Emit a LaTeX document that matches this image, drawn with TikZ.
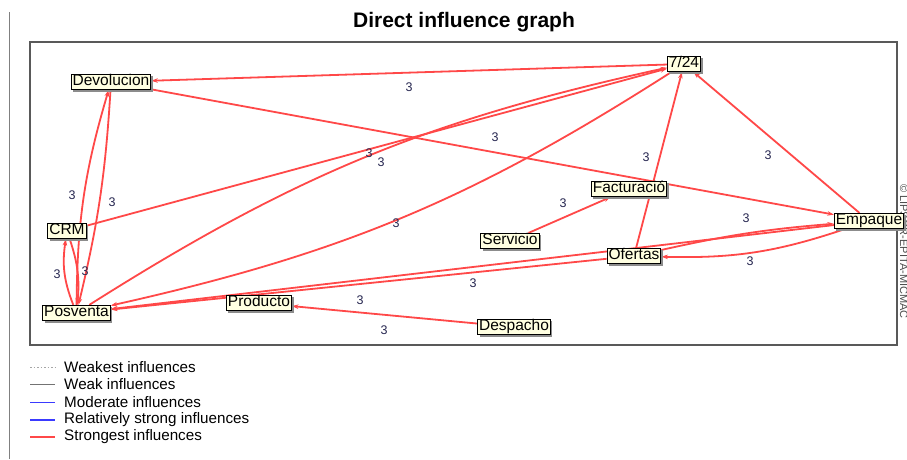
\documentclass[tikz,border=0pt]{standalone}
\usepackage{fontspec}
\setmainfont{Liberation Sans}
\usetikzlibrary{shadows,arrows.meta}
\definecolor{infred}{HTML}{FF4848}
\definecolor{nodefill}{HTML}{FFFFE1}
\definecolor{lblc}{HTML}{262650}
\definecolor{modblue}{HTML}{3A3AFF}
\pgfdeclarelayer{back}
\pgfdeclarelayer{bg}
\pgfsetlayers{back,bg,main}
\tikzset{
 var/.style={draw=black, fill=nodefill, line width=0.9pt, inner xsep=1.5pt, inner ysep=0pt,
   text height=11.5pt, text depth=3.8pt, font=\fontsize{15.5}{17}\selectfont,
   drop shadow={shadow xshift=2pt, shadow yshift=-2pt, fill=black!45, opacity=1}},
 infl/.style={draw=infred, line width=1.8pt, -{Stealth[length=6.5pt,width=4.5pt]}},
 wt/.style={font=\fontsize{12.5}{14}\selectfont, text=lblc, inner sep=0pt},
 legline/.style={line width=#1},
 legtext/.style={anchor=west, inner sep=0pt, font=\fontsize{15.2}{17}\selectfont},
}
\begin{document}
\begin{tikzpicture}[x=1pt,y=-1pt]
\useasboundingbox (0,0) rectangle (907,459);
\begin{pgfonlayer}{back}
\fill[white] (0,0) rectangle (907,459);
\draw[black!50, line width=1pt] (9,12) -- (9,459);
\draw[black!65, line width=1.5pt] (30,42) rectangle (897,345);
\end{pgfonlayer}
\node[font=\bfseries\fontsize{21}{23}\selectfont] (title) at (464,22) {Direct influence graph};
\node[rotate=-90, anchor=base west, font=\fontsize{11}{12}\selectfont, text=black!70, inner sep=0pt] (copy) at (900,184) {© LIPSOR-EPITA-MICMAC};

% variables
\node[var] (dev) at (111,82) {Devolucion};
\node[var] (t724) at (684,64) {7/24};
\node[var] (crm) at (67,231) {CRM};
\node[var] (pos) at (76.5,313) {Posventa};
\node[var] (prod) at (259,303) {Producto};
\node[var] (desp) at (514,327) {Despacho};
\node[var] (serv) at (510,241) {Servicio};
\node[var] (fact) at (629,189) {Facturació};
\node[var] (of) at (634,256) {Ofertas};
\node[var] (emp) at (869,221) {Empaque};

\begin{pgfonlayer}{bg}
\draw[infl] (t724) -- (dev);
\draw[infl] (dev) -- (emp);
\draw[infl] (crm) -- (t724);
\draw[infl] (pos) to[bend left=10] (t724);
\draw[infl] (t724) to[bend left=10] (pos);
\draw[infl] (of) -- (t724);
\draw[infl] (emp) -- (t724);
\draw[infl] (serv) -- (fact);
\draw[infl] (of) to[bend left=4] (emp);
\draw[infl] (emp) to[bend left=10] (of);
\draw[infl] (emp) -- (pos);
\draw[infl] (of) -- (pos);
\draw[infl] (desp) -- (prod);
\draw[infl] (pos) to[bend left=8] (dev);
\draw[infl] (dev) to[bend left=5] (pos);
\draw[infl] (pos) to[bend left=15] (crm);
\draw[infl] (crm) to[bend left=12] (pos);
\end{pgfonlayer}

% weights
\node[wt] (w1) at (409,87) {3};
\node[wt] (w2) at (495,137) {3};
\node[wt] (w3) at (369,153) {3};
\node[wt] (w4) at (381,162) {3};
\node[wt] (w5) at (396,223) {3};
\node[wt] (w6) at (646,157) {3};
\node[wt] (w7) at (768,155) {3};
\node[wt] (w8) at (563,203) {3};
\node[wt] (w9) at (746,218) {3};
\node[wt] (w10) at (750,261) {3};
\node[wt] (w11) at (473,283) {3};
\node[wt] (w12) at (360,300) {3};
\node[wt] (w13) at (384,330) {3};
\node[wt] (w14) at (72,195) {3};
\node[wt] (w15) at (112,202) {3};
\node[wt] (w16) at (57,274) {3};
\node[wt] (w17) at (85,271) {3};

% legend
\coordinate (l1a) at (30,367); \coordinate (l1b) at (55,367);
\coordinate (l2a) at (30,384); \coordinate (l2b) at (55,384);
\coordinate (l3a) at (30,402); \coordinate (l3b) at (55,402);
\coordinate (l4a) at (30,420); \coordinate (l4b) at (55,420);
\coordinate (l5a) at (30,437); \coordinate (l5b) at (55,437);
\draw[legline=0.6pt, black!35, dash pattern=on 1.5pt off 2pt] (l1a) -- (l1b);
\draw[legline=0.8pt, black!55] (l2a) -- (l2b);
\draw[legline=0.8pt, modblue] (l3a) -- (l3b);
\draw[legline=1.8pt, modblue] (l4a) -- (l4b);
\draw[legline=2.2pt, infred] (l5a) -- (l5b);
\node[legtext] (t1) at (64,367) {Weakest influences};
\node[legtext] (t2) at (64,384) {Weak influences};
\node[legtext] (t3) at (64,402) {Moderate influences};
\node[legtext] (t4) at (64,420) {Relatively strong influences};
\node[legtext] (t5) at (64,437) {Strongest influences};
\end{tikzpicture}
\end{document}
